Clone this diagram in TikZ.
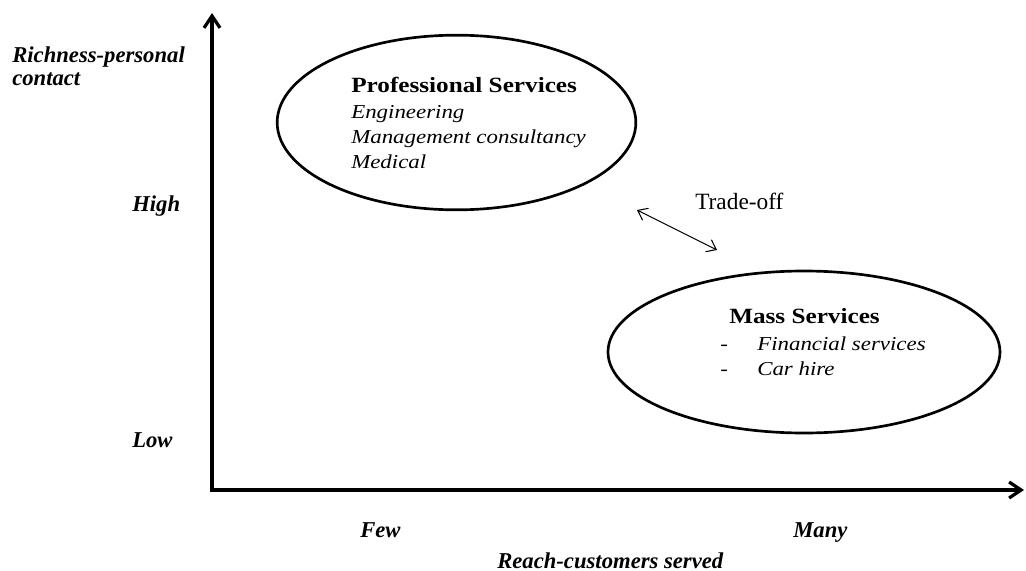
\documentclass[tikz,border=0pt]{standalone}
\usepackage{fontspec}
\setmainfont{Liberation Serif}
\newfontfamily\wideserif{Liberation Serif}[FakeStretch=1.16]
\newfontfamily\wideital{Liberation Serif}[FakeStretch=1.16]
\usetikzlibrary{arrows.meta,shapes.geometric}
\begin{document}
\begin{tikzpicture}[x=0.75pt,y=-0.75pt,
  axislabel/.style={font=\fontsize{17}{20}\selectfont\bfseries\itshape, inner sep=0, anchor=base west},
  ovaltitle/.style={font=\wideserif\fontsize{16.3}{19}\selectfont\bfseries, inner sep=0, anchor=base west},
  ovalitem/.style={font=\wideital\fontsize{14.8}{18}\selectfont\itshape, inner sep=0, anchor=base west},
  oval/.style={draw, ellipse, line width=2pt, inner sep=0},
  axis/.style={line width=2.4pt, {Straight Barb[length=9pt,width=12pt]}-{Straight Barb[length=9pt,width=12pt]}},
  tradearrow/.style={line width=0.8pt, {Straight Barb[length=6.5pt,width=10pt]}-{Straight Barb[length=6.5pt,width=10pt]}}
]
\useasboundingbox (0,0) rectangle (1026,571);
\fill[white] (0,0) rectangle (1026,571);

% axes
\coordinate (ytop) at (212,13);
\coordinate (O) at (212,490);
\coordinate (xend) at (1024,490);
\draw[axis] (ytop) -- (O) -- (xend);

% axis labels
\node[axislabel] (rich1) at (12,62) {Richness-personal};
\node[axislabel] (rich2) at (12,85) {contact};
\node[axislabel] (high) at (132,211) {High};
\node[axislabel] (low) at (132,447) {Low};
\node[axislabel] (few) at (360,537) {Few};
\node[axislabel] (many) at (793,537) {Many};
\node[axislabel] (reach) at (497,568) {Reach-customers served};

% ellipses
\node[oval, minimum width=269pt, minimum height=131pt] (prof) at (456.5,122.5) {};
\node[oval, minimum width=294pt, minimum height=121.5pt] (mass) at (804,352) {};

% professional services text
\node[ovaltitle] (proft) at (351,92) {Professional Services};
\node[ovalitem] (eng) at (351,118) {Engineering};
\node[ovalitem] (mgmt) at (351,143) {Management consultancy};
\node[ovalitem] (med) at (351,168) {Medical};

% mass services text
\node[ovaltitle] (masst) at (729,323) {Mass Services};
\node[ovalitem] (dash1) at (720,350) {-};
\node[ovalitem] (fin) at (757,350) {Financial services};
\node[ovalitem] (dash2) at (720,375) {-};
\node[ovalitem] (car) at (757,375) {Car hire};

% trade-off
\node[font=\fontsize{17.5}{20}\selectfont, inner sep=0, anchor=base west] (trade) at (695,209) {Trade-off};
\coordinate (ta) at (637,210);
\coordinate (tb) at (717,250);
\draw[tradearrow] (ta) -- (tb);
\end{tikzpicture}
\end{document}
